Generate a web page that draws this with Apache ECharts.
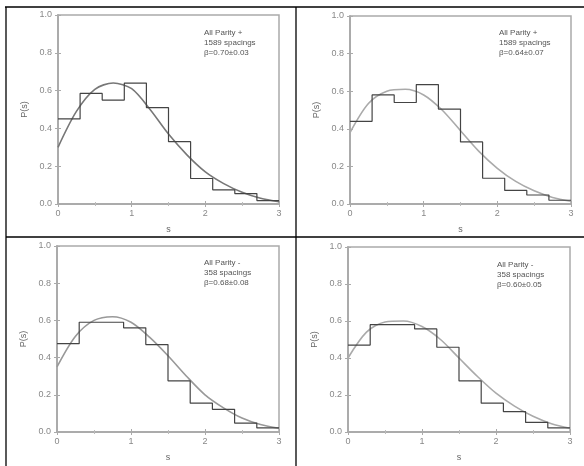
<!DOCTYPE html>
<html><head><meta charset="utf-8">
<script src="https://cdn.jsdelivr.net/npm/echarts@6/dist/echarts.min.js"></script>
<style>html,body{margin:0;padding:0;background:#fff}#c{width:584px;height:466px}</style>
</head><body><div id="c"></div>
<script>
// Histogram bin left edges (bin width 0.3) and heights per panel
const binEdges = [0, 0.3, 0.6, 0.9, 1.2, 1.5, 1.8, 2.1, 2.4, 2.7, 3.0];
const hist1 = [0.45, 0.585, 0.55, 0.64, 0.51, 0.33, 0.135, 0.075, 0.055, 0.018];
const hist2 = [0.44, 0.58, 0.54, 0.635, 0.505, 0.33, 0.137, 0.072, 0.048, 0.02];
const hist3 = [0.475, 0.59, 0.59, 0.56, 0.47, 0.275, 0.155, 0.122, 0.048, 0.022];
const hist4 = [0.47, 0.58, 0.58, 0.557, 0.458, 0.276, 0.156, 0.11, 0.052, 0.022];
// Fitted curves sampled at s
const curveS = [0, 0.25, 0.5, 0.75, 1.0, 1.25, 1.5, 1.75, 2.0, 2.25, 2.5, 2.75, 3.0];
const curve1 = [0.30, 0.49, 0.607, 0.64, 0.61, 0.50, 0.37, 0.26, 0.17, 0.108, 0.062, 0.03, 0.012];
const curve2 = [0.38, 0.535, 0.60, 0.61, 0.58, 0.50, 0.39, 0.28, 0.19, 0.12, 0.07, 0.035, 0.015];
const curve3 = [0.35, 0.515, 0.60, 0.62, 0.59, 0.51, 0.41, 0.30, 0.20, 0.13, 0.075, 0.04, 0.02];
const curve4 = [0.40, 0.54, 0.595, 0.60, 0.57, 0.50, 0.40, 0.30, 0.21, 0.14, 0.085, 0.045, 0.02];
const xTicks = [0, 1, 2, 3];
const yTicks = [0.0, 0.2, 0.4, 0.6, 0.8, 1.0];
const notes = [
  ['All Parity +', '1589 spacings', 'β=0.70±0.03'],
  ['All Parity +', '1589 spacings', 'β=0.64±0.07'],
  ['All Parity -', '358 spacings', 'β=0.68±0.08'],
  ['All Parity -', '358 spacings', 'β=0.60±0.05']
];
const hists = [hist1, hist2, hist3, hist4];
const curves = [curve1, curve2, curve3, curve4];
const curveColors = ['#777', '#aaa', '#999', '#aaa'];

const grids = [
  {left: 58, top: 15, width: 221, height: 189},
  {left: 350, top: 16, width: 221, height: 188},
  {left: 57, top: 246, width: 222, height: 186},
  {left: 348, top: 247, width: 222, height: 185}
];
const noteXY = [[204, 34], [499, 34], [204, 264], [497, 266]];

const chart = echarts.init(document.getElementById('c'), null, {renderer: 'canvas'});
const option = {
  backgroundColor: '#fff',
  animation: false,
  grid: grids.map(g => Object.assign({show: true, borderColor: '#aaa', borderWidth: 1.5, containLabel: false}, g)),
  xAxis: [], yAxis: [], series: [], graphic: []
};
grids.forEach((g, i) => {
  const base = {type: 'value', gridIndex: i, min: 0, max: 3, interval: 1,
    axisLine: {show: true, lineStyle: {color: '#aaa', width: 1.5}},
    splitLine: {show: false},
    axisTick: {show: true, inside: true, length: 3, lineStyle: {color: '#aaa'}},
    minorTick: {show: true, splitNumber: 2, length: 2, lineStyle: {color: '#bbb'}}};
  option.xAxis.push(Object.assign({}, base, {position: 'bottom',
    name: 's', nameLocation: 'middle', nameGap: 21, nameTextStyle: {color: '#666', fontSize: 9, fontFamily: 'Liberation Sans'},
    axisLabel: {color: '#888', fontSize: 9, margin: 5, fontFamily: 'Liberation Sans',
      formatter: v => xTicks.includes(v) ? String(v) : ''}}));
  option.xAxis.push(Object.assign({}, base, {position: 'top', axisLabel: {show: false}}));
  const ybase = {type: 'value', gridIndex: i, min: 0, max: 1, interval: 0.2,
    axisLine: {show: true, lineStyle: {color: '#aaa', width: 1.5}},
    splitLine: {show: false},
    axisTick: {show: true, inside: true, length: 3, lineStyle: {color: '#aaa'}}};
  option.yAxis.push(Object.assign({}, ybase, {position: 'left',
    name: 'P(s)', nameLocation: 'middle', nameGap: 29, nameRotate: 90,
    nameTextStyle: {color: '#666', fontSize: 9, fontFamily: 'Liberation Sans'},
    axisLabel: {color: '#888', fontSize: 9, margin: 6, fontFamily: 'Liberation Sans',
      formatter: v => { const t = yTicks.find(y => Math.abs(y - v) < 1e-6); return t === undefined ? '' : t.toFixed(1); }}}));
  option.yAxis.push(Object.assign({}, ybase, {position: 'right', axisLabel: {show: false}}));

  const h = hists[i];
  const stepData = h.map((v, k) => [binEdges[k], v]);
  stepData.push([binEdges[h.length], h[h.length - 1]]);
  option.series.push({type: 'line', xAxisIndex: 2 * i, yAxisIndex: 2 * i, step: 'end',
    data: stepData, symbol: 'none', lineStyle: {color: '#444', width: 1.2}, z: 3});
  option.series.push({type: 'line', xAxisIndex: 2 * i, yAxisIndex: 2 * i, smooth: 0.3,
    data: curveS.map((s, k) => [s, curves[i][k]]), symbol: 'none',
    lineStyle: {color: curveColors[i], width: 1.6}, z: 2});

  notes[i].forEach((t, k) => {
    option.graphic.push({type: 'text', left: noteXY[i][0], top: noteXY[i][1] + k * 10 - 5,
      style: {text: t, fill: '#555', font: '8px "Liberation Sans", Arial, sans-serif'}});
  });
});
// table borders
const L = (x1, y1, x2, y2) => ({type: 'line', shape: {x1, y1, x2, y2}, style: {stroke: '#000', lineWidth: 1.3}, z: 10});
option.graphic.push(L(5, 7, 584, 7), L(6, 7, 6, 466), L(296, 7, 296, 466), L(6, 237, 584, 237));
chart.setOption(option);
</script></body></html>
